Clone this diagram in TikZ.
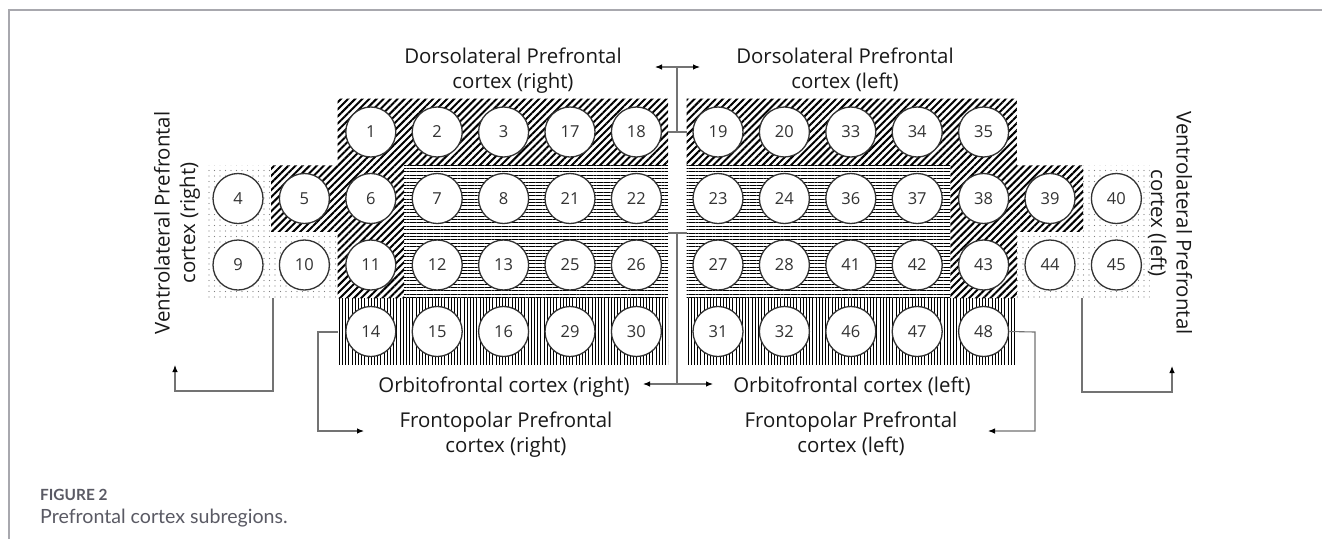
\documentclass[tikz,border=0pt]{standalone}
\usepackage{fontspec}
\setmainfont{Open Sans}
\newfontfamily\capfont{Lato}
\usetikzlibrary{patterns.meta,arrows.meta}
\definecolor{framegray}{HTML}{A8A8AE}
\definecolor{capgray}{HTML}{5A5A64}
\begin{document}
\begin{tikzpicture}[x=1pt,y=-1pt,
  cell/.style={circle,draw=black!80,line width=1.3pt,fill=white,minimum size=50pt,inner sep=0pt,
    font=\fontsize{16.5}{16.5}\selectfont,text=black!80},
  lbl/.style={font=\fontsize{20.4}{25.5}\selectfont,align=center,text=black!90,inner sep=0pt},
  conn/.style={draw=black!55,line width=1.1pt},
  tip/.tip={Latex[length=7pt,width=5.5pt,color=black]},
  arr/.style={conn,-tip},
  hatch/.style={pattern={Lines[angle=45,distance=5pt,line width=2pt]},pattern color=black},
  hlines/.style={pattern={Lines[angle=0,distance=3.4pt,line width=0.95pt]},pattern color=black},
  vlines/.style={pattern={Lines[angle=90,distance=3.2pt,line width=1pt]},pattern color=black},
  dots/.style={pattern={Dots[radius=0.65pt,distance=5.5pt]},pattern color=black!50}
]
\useasboundingbox (0,0) rectangle (1322,539);
\fill[white] (0,0) rectangle (1322,539);
% frame
\draw[framegray,line width=2pt] (9,539) -- (9,10) -- (1322,10);

% ---------- regions, right hemisphere (image left) ----------
\fill[hatch] (337.6,98.5) -- (668,98.5) -- (668,165.25) -- (404,165.25) -- (404,298.25)
  -- (337.6,298.25) -- (337.6,231.75) -- (271.2,231.75) -- (271.2,165.25) -- (337.6,165.25) -- cycle;
\fill[dots] (204.8,165.25) -- (271.2,165.25) -- (271.2,231.75) -- (337.6,231.75) -- (337.6,298.25)
  -- (204.8,298.25) -- cycle;
\fill[hlines] (404,165.25) rectangle (668,298.25);
\fill[vlines] (337.6,298.25) rectangle (668,364.75);

% ---------- regions, left hemisphere (image right) ----------
\fill[hatch] (686.5,98.5) -- (1016.8,98.5) -- (1016.8,165.25) -- (1083.2,165.25) -- (1083.2,231.75)
  -- (1016.8,231.75) -- (1016.8,298.25) -- (950.4,298.25) -- (950.4,165.25) -- (686.5,165.25) -- cycle;
\fill[dots] (1083.2,165.25) -- (1149.6,165.25) -- (1149.6,298.25) -- (1016.8,298.25) -- (1016.8,231.75)
  -- (1083.2,231.75) -- cycle;
\fill[hlines] (686.5,165.25) rectangle (950.4,298.25);
\fill[vlines] (686.5,298.25) rectangle (1016.8,364.75);

% ---------- circles ----------
% row 1
\node[cell] (c1)  at (370.8,132) {1};
\node[cell] (c2)  at (437.2,132) {2};
\node[cell] (c3)  at (503.6,132) {3};
\node[cell] (c17) at (570,132) {17};
\node[cell] (c18) at (636.4,132) {18};
\node[cell] (c19) at (718,132) {19};
\node[cell] (c20) at (784.4,132) {20};
\node[cell] (c33) at (850.8,132) {33};
\node[cell] (c34) at (917.2,132) {34};
\node[cell] (c35) at (983.6,132) {35};
% row 2
\node[cell] (c4)  at (238,198.5) {4};
\node[cell] (c5)  at (304.4,198.5) {5};
\node[cell] (c6)  at (370.8,198.5) {6};
\node[cell] (c7)  at (437.2,198.5) {7};
\node[cell] (c8)  at (503.6,198.5) {8};
\node[cell] (c21) at (570,198.5) {21};
\node[cell] (c22) at (636.4,198.5) {22};
\node[cell] (c23) at (718,198.5) {23};
\node[cell] (c24) at (784.4,198.5) {24};
\node[cell] (c36) at (850.8,198.5) {36};
\node[cell] (c37) at (917.2,198.5) {37};
\node[cell] (c38) at (983.6,198.5) {38};
\node[cell] (c39) at (1050,198.5) {39};
\node[cell] (c40) at (1116.4,198.5) {40};
% row 3
\node[cell] (c9)  at (238,265) {9};
\node[cell] (c10) at (304.4,265) {10};
\node[cell] (c11) at (370.8,265) {11};
\node[cell] (c12) at (437.2,265) {12};
\node[cell] (c13) at (503.6,265) {13};
\node[cell] (c25) at (570,265) {25};
\node[cell] (c26) at (636.4,265) {26};
\node[cell] (c27) at (718,265) {27};
\node[cell] (c28) at (784.4,265) {28};
\node[cell] (c41) at (850.8,265) {41};
\node[cell] (c42) at (917.2,265) {42};
\node[cell] (c43) at (983.6,265) {43};
\node[cell] (c44) at (1050,265) {44};
\node[cell] (c45) at (1116.4,265) {45};
% row 4
\node[cell] (c14) at (370.8,331.5) {14};
\node[cell] (c15) at (437.2,331.5) {15};
\node[cell] (c16) at (503.6,331.5) {16};
\node[cell] (c29) at (570,331.5) {29};
\node[cell] (c30) at (636.4,331.5) {30};
\node[cell] (c31) at (718,331.5) {31};
\node[cell] (c32) at (784.4,331.5) {32};
\node[cell] (c46) at (850.8,331.5) {46};
\node[cell] (c47) at (917.2,331.5) {47};
\node[cell] (c48) at (983.6,331.5) {48};

% ---------- labels ----------
\node[lbl,anchor=north] (dlr) at (513,47.5) {Dorsolateral Prefrontal\\cortex (right)};
\node[lbl,anchor=north] (dll) at (845,47.5) {Dorsolateral Prefrontal\\cortex (left)};
\node[lbl,anchor=base] (ofr) at (504,392) {Orbitofrontal cortex (right)};
\node[lbl,anchor=base] (ofl) at (852,392) {Orbitofrontal cortex (left)};
\node[lbl,anchor=north] (fpr) at (506,411.5) {Frontopolar Prefrontal\\cortex (right)};
\node[lbl,anchor=north] (fpl) at (851,411.5) {Frontopolar Prefrontal\\cortex (left)};
\node[lbl,rotate=90] (vlr) at (177,223) {Ventrolateral Prefrontal\\cortex (right)};
\node[lbl,rotate=-90] (vll) at (1170,223) {Ventrolateral Prefrontal\\cortex (left)};

% ---------- connectors ----------
% central, top
\coordinate (tl) at (655,67);
\coordinate (tr) at (700,67);
\coordinate (tm) at (677,67);
\coordinate (tb) at (677,132);
\coordinate (bl1) at (668,132);
\coordinate (br1) at (686.5,132);
\draw[conn,tip-tip] (tl) -- (tr);
\draw[conn] (tm) -- (tb);
\draw[conn] (bl1) -- (br1);
% central, bottom
\coordinate (bl2) at (668,233);
\coordinate (br2) at (686.5,233);
\coordinate (mt) at (677,233);
\coordinate (mb) at (677,384);
\coordinate (ml) at (643,384);
\coordinate (mr) at (713,384);
\draw[conn] (bl2) -- (br2);
\draw[conn] (mt) -- (mb);
\draw[conn,tip-tip] (ml) -- (mr);
% ventrolateral right
\coordinate (vr0) at (273,298.25);
\coordinate (vr1) at (273,391);
\coordinate (vr2) at (175,391);
\coordinate (vr3) at (175,365);
\draw[arr] (vr0) -- (vr1) -- (vr2) -- (vr3);
% frontopolar right
\coordinate (fr0) at (337.6,332);
\coordinate (fr1) at (318,332);
\coordinate (fr2) at (318,431);
\coordinate (fr3) at (364,431);
\draw[arr] (fr0) -- (fr1) -- (fr2) -- (fr3);
% frontopolar left
\coordinate (fl1) at (1035,332);
\coordinate (fl2) at (1035,431);
\coordinate (fl3) at (988,431);
\draw[arr] (c48.east) -- (fl1) -- (fl2) -- (fl3);
% ventrolateral left
\coordinate (vl0) at (1082,298.25);
\coordinate (vl1) at (1082,392);
\coordinate (vl2) at (1172,392);
\coordinate (vl3) at (1172,366);
\draw[arr] (vl0) -- (vl1) -- (vl2) -- (vl3);

% ---------- caption ----------
\node[anchor=base west,inner sep=0pt,text=capgray,font=\capfont\bfseries\fontsize{15.4}{18}\selectfont] (figno) at (40,500) {FIGURE 2};
\node[anchor=base west,inner sep=0pt,text=capgray,font=\capfont\fontsize{19.6}{22}\selectfont] (figcap) at (40,523) {Prefrontal cortex subregions.};
\end{tikzpicture}
\end{document}
